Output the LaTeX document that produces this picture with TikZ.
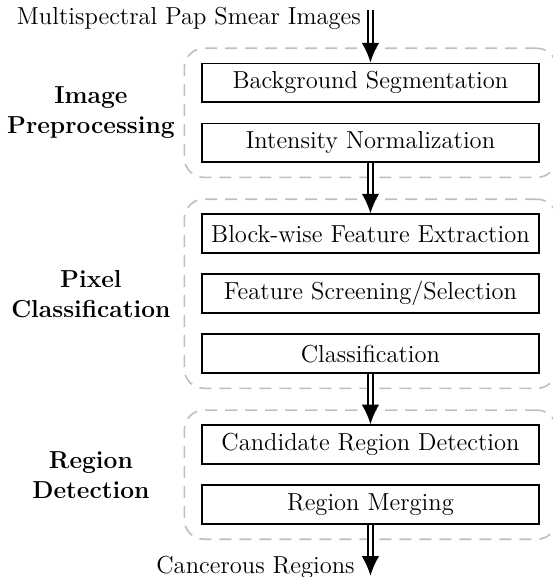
\documentclass[tikz,border=0pt]{standalone}
\usetikzlibrary{positioning,fit,arrows.meta}

\tikzset{
	stage/.style={rectangle,draw,thick,minimum width=5.45cm,minimum height=0.63cm,inner xsep=2pt},
	group/.style={draw=gray!50,line width=0.75pt,dash pattern=on 5.5pt off 3.7pt,rounded corners=9pt,inner xsep=0.27cm,inner ysep=0.23cm},
	glabel/.style={align=center,font=\fontsize{11.3pt}{13.8pt}\selectfont\bfseries},
	flow/.style={double,double distance=1.6pt,line width=0.75pt,-{Latex[length=9pt,width=8pt]}},
}

\begin{document}
\begin{tikzpicture}[node distance=0.97cm,font=\fontsize{11.3pt}{13.8pt}\selectfont]
	\useasboundingbox (0,0) rectangle (8.94,-9.33);

	\node[stage] (bgseg) at (5.99,-1.34) {Background Segmentation};
	\node[stage, below of=bgseg] (intnorm) {Intensity Normalization};

	\node[stage, node distance=1.47cm, below of=intnorm] (blockfeat) {Block-wise Feature Extraction};
	\node[stage, below of=blockfeat] (featsel) {Feature Screening/Selection};
	\node[stage, below of=featsel] (classif) {Classification};

	\node[stage, node distance=1.47cm, below of=classif] (candreg) {Candidate Region Detection};
	\node[stage, below of=candreg] (regmerge) {Region Merging};

	% dashed stage groups
	\node[group, fit=(bgseg)(intnorm)] (gPre) {};
	\node[group, fit=(blockfeat)(classif)] (gPix) {};
	\node[group, fit=(candreg)(regmerge)] (gReg) {};

	\coordinate (col) at (1.47,0);
	\node[glabel] (lPre) at (gPre.west -| col) {Image\\Preprocessing};
	\node[glabel] (lPix) at (gPix.west -| col) {Pixel\\Classification};
	\node[glabel] (lReg) at (gReg.west -| col) {Region\\Detection};

	% input and output
	\coordinate (in) at (5.99,-0.16);
	\coordinate (out) at (5.99,-9.31);
	\node[anchor=east] (src) at (5.96,-0.29) {Multispectral Pap Smear Images};
	\node[anchor=east] (dst) at (5.86,-9.17) {Cancerous Regions};

	\draw[flow] (in) -- (bgseg);
	\draw[flow] (intnorm) -- (blockfeat);
	\draw[flow] (classif) -- (candreg);
	\draw[flow] (regmerge) -- (out);
\end{tikzpicture}
\end{document}
